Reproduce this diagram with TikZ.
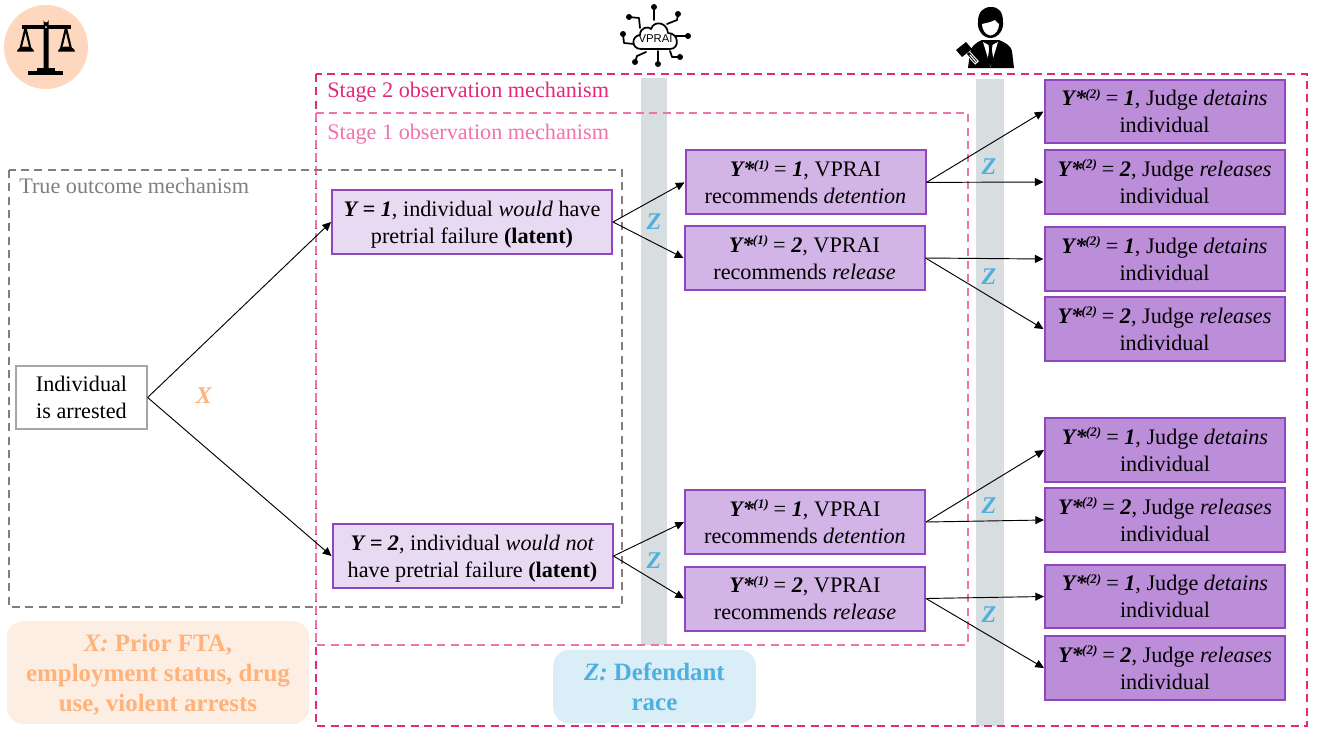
\documentclass[tikz,border=0pt]{standalone}
\usepackage{fontspec}
\setmainfont{Liberation Serif}
\setsansfont{Liberation Sans}
\usetikzlibrary{arrows.meta}
\definecolor{bordp}{HTML}{9046BE}
\definecolor{fa}{HTML}{E9DAF3}
\definecolor{fb}{HTML}{D3B4E6}
\definecolor{fc}{HTML}{BC8DD8}
\definecolor{stwo}{HTML}{E5277B}
\definecolor{sone}{HTML}{F272AE}
\definecolor{barc}{HTML}{D8DDE0}
\definecolor{trueg}{HTML}{7F7F7F}
\definecolor{orangeT}{HTML}{FFB27A}
\definecolor{orangeF}{HTML}{FDEEE4}
\definecolor{blueT}{HTML}{4DB0DE}
\definecolor{blueF}{HTML}{DAEEF7}
\definecolor{scalec}{HTML}{FDD8BE}
\newcommand{\ya}[2]{\textbf{\textit{Y*}}\kern-.5pt\raisebox{5.6pt}{\fontsize{9.8}{10}\selectfont\bfseries\itshape (#1)}\kern-.4pt{} = \textbf{\textit{#2}}}
\newcommand{\fs}{\fontsize{16.65}{20.2}\selectfont}
\newcommand{\tstr}[1]{\rule{0pt}{#1}}
\tikzset{
  pbox/.style={draw=bordp,line width=1.5pt,inner sep=0pt,align=center,font=\fs,text=black,minimum width=180pt,minimum height=48pt},
  boxa/.style={pbox,fill=fa,minimum width=210pt},
  boxb/.style={pbox,fill=fb,execute at end node={\rule[-.6pt]{0pt}{.6pt}}},
  boxc/.style={pbox,fill=fc,minimum height=47.5pt,execute at end node={\rule[-.6pt]{0pt}{.6pt}}},
  startbox/.style={draw=black!35,line width=1.2pt,fill=white,inner sep=0pt,align=center,font=\fs,minimum width=98pt,minimum height=47.5pt},
  dashbox/.style={line width=1.5pt,dash pattern=on 6pt off 4pt},
  arr/.style={draw=black,line width=.7pt,-{Triangle[length=6.5pt,width=6pt]}},
  zlab/.style={font=\fontsize{18}{20}\selectfont\bfseries\itshape,text=blueT,inner sep=0pt},
  mech/.style={font=\fs,anchor=west,inner sep=0pt},
  legend/.style={rounded corners=12pt,inner sep=0pt,align=center,font=\fontsize{18.7}{22.5}\selectfont\bfseries},
  stem/.style={line width=1.3pt,line cap=round,line join=round},
}
\begin{document}
\begin{tikzpicture}[x=.75pt,y=-.75pt]
\useasboundingbox (0,0) rectangle (1317,736);
% bars
\fill[barc] (641,78) rectangle (667,645);
\fill[barc] (976,79) rectangle (1004,726);
% dashed frames
\draw[dashbox,stwo] (316,74) rectangle (1307,726);
\draw[dashbox,sone] (316,113) rectangle (968,645);
\draw[dashbox,trueg] (9,170) rectangle (622,607);
\node[mech,text=stwo] (stage2) at (327,92.5) {Stage 2 observation mechanism};
\node[mech,text=sone] (stage1) at (327,134.5) {Stage 1 observation mechanism};
\node[mech,text=trueg] (truem) at (19,185.5) {True outcome mechanism};
% legends
\node[legend,fill=orangeF,text=orangeT,minimum width=226.5pt,minimum height=77pt] (xleg) at (158,672.5) {\tstr{17pt}\textit{X:} Prior FTA,\\employment status, drug\\use, violent arrests};
\node[legend,fill=blueF,text=blueT,minimum width=152pt,minimum height=55pt] (zleg) at (654.5,686.5) {\textit{Z:} Defendant\\race};
% nodes
\node[startbox] (ind) at (81.5,397.5) {Individual\\is arrested};
\node[boxa] (y1) at (472,222) {\tstr{15.2pt}\textbf{\textit{Y = 1}}, individual \textit{would} have\\pretrial failure \textbf{(latent)}};
\node[boxa] (y2) at (472.5,556) {\tstr{15.2pt}\textbf{\textit{Y = 2}}, individual \textit{would not}\\have pretrial failure \textbf{(latent)}};
\node[boxb] (a1) at (805.5,182.4) {\ya{1}{1}, VPRAI\\recommends \textit{detention}};
\node[boxb] (a2) at (804.5,258) {\ya{1}{2}, VPRAI\\recommends \textit{release}};
\node[boxb] (a3) at (805,522) {\ya{1}{1}, VPRAI\\recommends \textit{detention}};
\node[boxb] (a4) at (805,598.5) {\ya{1}{2}, VPRAI\\recommends \textit{release}};
\node[boxc] (b1) at (1164.5,111.5) {\ya{2}{1}, Judge \textit{detains}\\individual};
\node[boxc] (b2) at (1164.5,182) {\ya{2}{2}, Judge \textit{releases}\\individual};
\node[boxc] (b3) at (1164.5,259) {\ya{2}{1}, Judge \textit{detains}\\individual};
\node[boxc] (b4) at (1164.5,329) {\ya{2}{2}, Judge \textit{releases}\\individual};
\node[boxc] (b5) at (1165,450) {\ya{2}{1}, Judge \textit{detains}\\individual};
\node[boxc] (b6) at (1165,520) {\ya{2}{2}, Judge \textit{releases}\\individual};
\node[boxc] (b7) at (1165,596.5) {\ya{2}{1}, Judge \textit{detains}\\individual};
\node[boxc] (b8) at (1165,668) {\ya{2}{2}, Judge \textit{releases}\\individual};
% connectors
\draw[arr] (ind.east) -- (y1.west);
\draw[arr] (ind.east) -- (y2.west);
\draw[arr] (y1.east) -- (a1.west);
\draw[arr] (y1.east) -- (a2.west);
\draw[arr] (y2.east) -- (a3.west);
\draw[arr] (y2.east) -- (a4.west);
\draw[arr] (a1.east) -- (b1.west);
\draw[arr] (a1.east) -- (b2.west);
\draw[arr] (a2.east) -- (b3.west);
\draw[arr] (a2.east) -- (b4.west);
\draw[arr] (a3.east) -- (b5.west);
\draw[arr] (a3.east) -- (b6.west);
\draw[arr] (a4.east) -- (b7.west);
\draw[arr] (a4.east) -- (b8.west);
% labels
\node[font=\fontsize{18}{20}\selectfont\bfseries\itshape,text=orangeT,inner sep=0pt] (xl) at (204,396) {X};
\node[zlab] (z1) at (654,222) {Z};
\node[zlab] (z2) at (654,561) {Z};
\node[zlab] (z3) at (989,167) {Z};
\node[zlab] (z4) at (989,277) {Z};
\node[zlab] (z5) at (989,506) {Z};
\node[zlab] (z6) at (989,615) {Z};
% scales icon
\fill[scalec] (46,47) circle (42);
\fill[black] (43.5,20) arc (180:0:2.5) -- (48.5,71) -- (43.5,71) -- cycle;
\fill[black] (22,25) rectangle (71,29);
\fill[black] (37,68) rectangle (55,71);
\fill[black] (28,71) rectangle (63,75);
\draw[line width=1.6pt] (25.5,28) -- (20,51) (25.5,28) -- (31,51);
\draw[line width=1.6pt] (66,28) -- (60.5,51) (66,28) -- (71.5,51);
\fill[black] (17,51.5) -- (34,51.5) arc (0:-180:8.5 and 5) -- cycle;
\fill[black] (58,51.5) -- (75,51.5) arc (0:-180:8.5 and 5) -- cycle;
\fill[white] (46,27) circle (1);
% VPRAI icon
\draw[stem,fill=white] (641,49) .. controls (631,49) and (631,36) .. (640,35)
  .. controls (640,27) and (649,26) .. (651,29)
  .. controls (654,20) and (667,22) .. (668,33)
  .. controls (679,33) and (680,49) .. (670,49) -- cycle;
\node[font=\fontsize{8.5}{10}\selectfont\sffamily,inner sep=0pt] (vp) at (655.5,39) {VPRAI};
\draw[stem] (654,7) -- (654,20);
\draw[stem] (629,17) -- (639,18) -- (640,28);
\draw[stem] (678,14) -- (677,20) -- (667,24);
\draw[stem] (688,36) -- (675,36);
\draw[stem] (623,34) -- (624,43) -- (634,44);
\draw[stem] (635,62) -- (637,56) -- (646,52);
\draw[stem] (658,64) -- (658,51);
\draw[stem] (680,57) -- (672,57) -- (670,51);
\foreach \p in {(654,7),(629,17),(678,14),(688,36),(623,34),(635,62),(658,64),(680,57)} \fill[black] \p circle (3);
% judge icon
\fill[black] (968,68) -- (970,52) .. controls (971,47) and (975,43) .. (982,40)
  -- (999,40) .. controls (1006,43) and (1011,46) .. (1012,51) -- (1014,68) -- cycle;
\fill[white] (983,42) -- (990.5,46) -- (998,42) -- (994,55) -- (990.5,67) -- (987,55) -- cycle;
\fill[black] (988.5,45) -- (992.5,45) -- (991.8,49) -- (993.5,61) -- (990.5,66) -- (987.5,61) -- (989.2,49) -- cycle;
\fill[black] (978,22) .. controls (978,12) and (983,7) .. (991,7)
  .. controls (999,7) and (1003,12) .. (1003,22)
  .. controls (1004,30) and (998,38) .. (990.5,38)
  .. controls (983,38) and (977,30) .. (978,22) -- cycle;
\fill[white] (990.5,35.5) .. controls (985,35) and (982,29) .. (982,24)
  .. controls (986,23) and (992,22) .. (995,20) .. controls (996,22) and (998,23) .. (999,24)
  .. controls (999,29) and (996,35) .. (990.5,35.5) -- cycle;
\draw[line width=3.8pt,white] (968,53) -- (977,63);
\draw[line width=2.2pt,black] (968,53) -- (976,62);
\draw[line width=.8pt,white,line cap=round] (970,55) -- (976,62);
\fill[black] (956,50) -- (966,42) -- (972,49) -- (962,57) -- cycle;
\end{tikzpicture}
\end{document}
